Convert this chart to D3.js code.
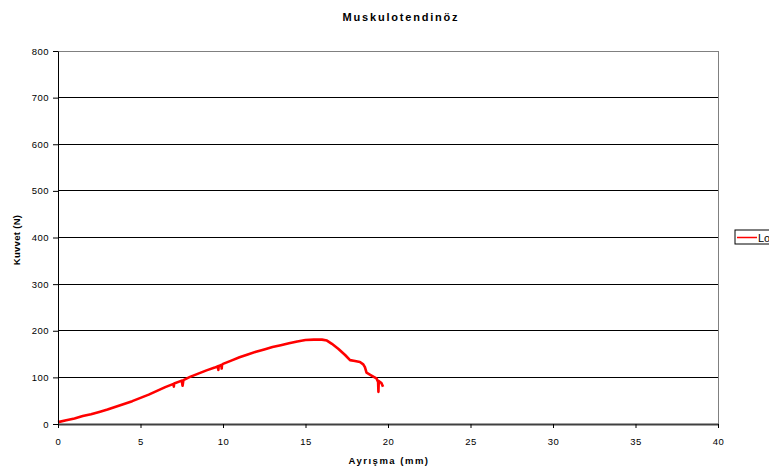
<!DOCTYPE html>
<html><head><meta charset="utf-8">
<script src="https://cdn.jsdelivr.net/npm/d3@7"></script>
<style>body{margin:0;background:#fff;overflow:hidden}svg{display:block;font-family:"Liberation Sans",Arial,sans-serif}</style>
</head><body>
<script>
const title = "Muskulotendinöz";
const xLabel = "Ayrışma (mm)";
const yLabel = "Kuvvet (N)";
const seriesName = "Load";
const xTicks = [0,5,10,15,20,25,30,35,40];
const yTicks = [0,100,200,300,400,500,600,700,800];
const xValues = [0,0.5,1,1.5,2,2.5,3,3.5,4,4.5,5,5.5,6,6.5,7,7.02,7.04,7.5,7.55,7.6,8,8.5,9,9.5,9.7,9.72,9.74,9.9,9.92,9.94,10,10.5,11,11.5,12,12.5,13,13.5,14,14.5,15,15.5,16,16.3,16.6,17,17.4,17.7,18,18.3,18.5,18.6,18.7,19,19.3,19.4,19.42,19.44,19.6,19.7];
const yValues = [4,8,12,17,21,26,31,37,43,49,56,63,71,79,86,80,87,93,82,94,101,108,115,121,124,116,124,127,119,127,129,136,143,149,155,160,165,169,173,177,180,181,181,179,172,161,148,137,135,133,128,122,110,104,98,90,69,92,88,80];

const W = 778, H = 471;
const m = {left:58, right:718, top:51, bottom:424};
const svg = d3.select("body").append("svg").attr("width",W).attr("height",H);
const x = d3.scaleLinear().domain([0,40]).range([m.left,m.right]);
const y = d3.scaleLinear().domain([0,800]).range([m.bottom,m.top]);

// gridlines
svg.append("g").selectAll("line").data(yTicks.filter(d=>d>0)).join("line")
  .attr("x1",m.left).attr("x2",m.right).attr("y1",d=>y(d)).attr("y2",d=>y(d))
  .attr("stroke",d=>d===800?"#808080":"#000").attr("stroke-width",1).attr("shape-rendering","crispEdges");
// right border
svg.append("line").attr("x1",m.right).attr("x2",m.right).attr("y1",m.top).attr("y2",m.bottom)
  .attr("stroke","#808080").attr("shape-rendering","crispEdges");

// line
const data = xValues.map((v,i)=>[v,yValues[i]]);
svg.append("path").datum(data)
  .attr("fill","none").attr("stroke","#ff0000").attr("stroke-width",2.6).attr("stroke-linejoin","round")
  .attr("d",d3.line().x(d=>x(d[0])).y(d=>y(d[1])));

// axes
const yAxis = svg.append("g").attr("transform",`translate(${m.left},0)`)
  .call(d3.axisLeft(y).tickValues(yTicks).tickSize(5).tickSizeOuter(0).tickPadding(4));
yAxis.select(".domain").attr("stroke","#000");
yAxis.selectAll("line").attr("stroke","#000");
yAxis.selectAll("text").attr("font-size",9.5).attr("fill","#000").attr("letter-spacing","0.5px");

const xAxis = svg.append("g").attr("transform",`translate(0,${m.bottom})`)
  .call(d3.axisBottom(x).tickValues(xTicks).tickSize(4).tickSizeOuter(0).tickPadding(10));
xAxis.select(".domain").attr("stroke","#404040").attr("stroke-width",2);
xAxis.selectAll("line").attr("stroke","#000");
xAxis.selectAll("text").attr("font-size",9.5).attr("fill","#000").attr("letter-spacing","0.5px");

// title & labels
svg.append("text").attr("x",401).attr("y",21).attr("text-anchor","middle")
  .attr("font-size",11).attr("font-weight","bold").attr("letter-spacing","1.8px").text(title);
svg.append("text").attr("x",389).attr("y",464).attr("text-anchor","middle")
  .attr("font-size",9.5).attr("font-weight","bold").attr("letter-spacing","1.5px").text(xLabel);
svg.append("text").attr("transform","translate(20,240) rotate(-90)").attr("text-anchor","middle")
  .attr("font-size",9.5).attr("font-weight","bold").attr("letter-spacing","0.3px").text(yLabel);

// legend (clipped at the right edge like the reference)
svg.append("clipPath").attr("id","lgclip").append("rect").attr("x",700).attr("y",200).attr("width",69).attr("height",80);
const lg = svg.append("g").attr("clip-path","url(#lgclip)").append("g").attr("transform","translate(735,230)");
lg.append("rect").attr("width",70).attr("height",14).attr("fill","#fff").attr("stroke","#000");
lg.append("line").attr("x1",2).attr("x2",22).attr("y1",7.5).attr("y2",7.5).attr("stroke","#ff0000").attr("stroke-width",1.5);
lg.append("text").attr("x",23).attr("y",11.5).attr("font-size",11).text(seriesName);
</script>
</body></html>
